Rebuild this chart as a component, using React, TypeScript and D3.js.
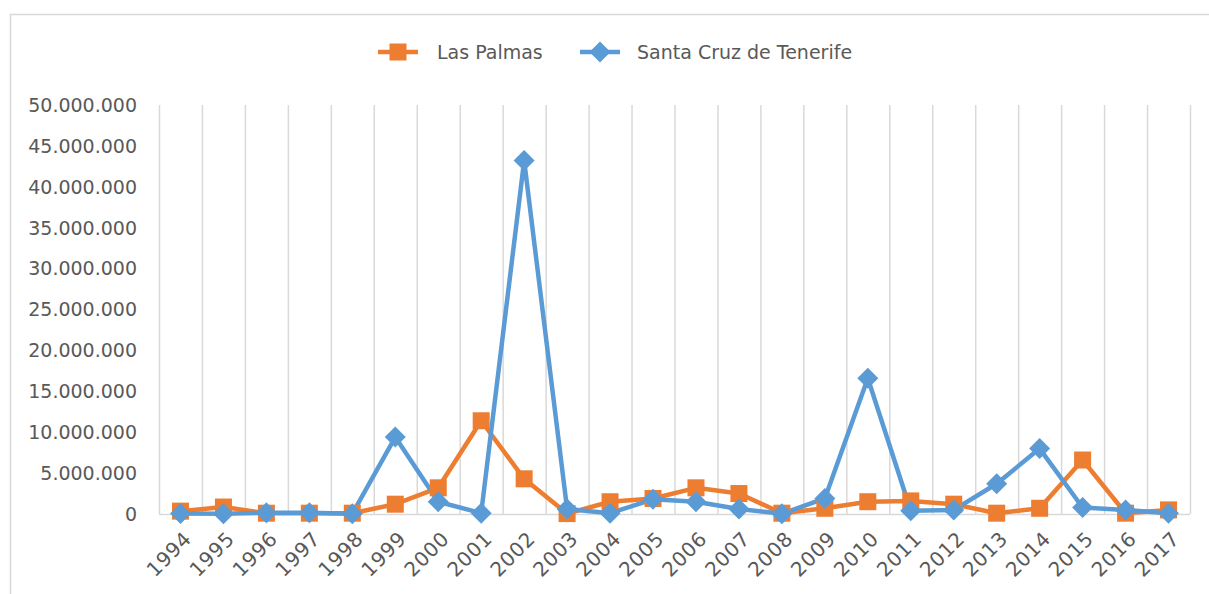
import React from "react";
import * as d3 from "d3";

const years = ["1994","1995","1996","1997","1998","1999","2000","2001","2002","2003","2004","2005","2006","2007","2008","2009","2010","2011","2012","2013","2014","2015","2016","2017"];
const lasPalmas = [350000,850000,100000,100000,100000,1200000,3200000,11400000,4300000,50000,1500000,1900000,3200000,2500000,100000,700000,1500000,1600000,1200000,100000,700000,6600000,100000,500000];
const santaCruz = [50000,20000,150000,150000,30000,9400000,1500000,100000,43200000,600000,100000,1800000,1500000,600000,30000,1900000,16600000,400000,500000,3700000,8000000,800000,500000,100000];
const yTicks = [0,5000000,10000000,15000000,20000000,25000000,30000000,35000000,40000000,45000000,50000000];
const seriesNames = ["Las Palmas", "Santa Cruz de Tenerife"];
const colors = ["#ED7D31", "#5B9BD5"];

const W = 1209, H = 594;
const left = 159, right = 1190, top = 105, bottom = 514;
const FONT = "DejaVu Sans";
const fmt = (v: number) => d3.format(",")(v).replace(/,/g, ".");

export default function App() {
  const x = d3.scaleBand<string>().domain(years).range([left, right]).paddingInner(0).paddingOuter(0);
  const y = d3.scaleLinear().domain([0, 50000000]).range([bottom, top]);
  const cx = (yr: string) => (x(yr) as number) + x.bandwidth() / 2;
  const line = d3.line<number>().x((_, i) => cx(years[i])).y((d) => y(d));
  const series = [lasPalmas, santaCruz];
  const sq = 17;
  const dm = 10.5;
  return (
    <svg width={W} height={H} style={{ position: "absolute", left: 0, top: 0, background: "#fff" }} fontFamily={FONT}>
      <rect x={10.5} y={14.5} width={1220} height={620} fill="#fff" stroke="#D9D9D9" strokeWidth={1.5} />
      {/* vertical gridlines at category boundaries */}
      {years.map((yr) => (
        <line key={"g" + yr} x1={(x(yr) as number) + 0.5} x2={(x(yr) as number) + 0.5} y1={top} y2={bottom} stroke="#D9D9D9" strokeWidth={1.5} />
      ))}
      <line x1={right + 0.5} x2={right + 0.5} y1={top} y2={bottom} stroke="#D9D9D9" strokeWidth={1.5} />
      <line x1={left} x2={right} y1={bottom + 0.5} y2={bottom + 0.5} stroke="#D9D9D9" strokeWidth={1.5} />
      {/* y tick labels */}
      {yTicks.map((t) => (
        <text key={"y" + t} x={137} y={y(t)} dy="0.36em" textAnchor="end" fontSize={19} fill="#595959">{fmt(t)}</text>
      ))}
      {/* x tick labels */}
      {years.map((yr) => (
        <text key={"x" + yr} transform={`translate(${cx(yr) + 2},${530}) rotate(-45)`} textAnchor="end" dy="0.72em" fontSize={20} letterSpacing={0.6} fill="#595959">{yr}</text>
      ))}
      {/* lines */}
      {series.map((s, si) => (
        <path key={"l" + si} d={line(s) as string} fill="none" stroke={colors[si]} strokeWidth={4.5} strokeLinejoin="round" />
      ))}
      {/* markers */}
      {lasPalmas.map((v, i) => (
        <rect key={"m0" + i} x={cx(years[i]) - sq / 2} y={y(v) - sq / 2} width={sq} height={sq} fill={colors[0]} />
      ))}
      {santaCruz.map((v, i) => {
        const px = cx(years[i]), py = y(v);
        return <path key={"m1" + i} d={`M${px},${py - dm}L${px + dm},${py}L${px},${py + dm}L${px - dm},${py}Z`} fill={colors[1]} />;
      })}
      {/* legend */}
      <g>
        <line x1={378} x2={418} y1={52} y2={52} stroke={colors[0]} strokeWidth={4.5} />
        <rect x={398 - sq / 2} y={52 - sq / 2} width={sq} height={sq} fill={colors[0]} />
        <text x={437} y={52} dy="0.36em" fontSize={19} fill="#595959">{seriesNames[0]}</text>
        <line x1={580} x2={620} y1={52} y2={52} stroke={colors[1]} strokeWidth={4.5} />
        <path d={`M600,${52 - dm}L${600 + dm},52L600,${52 + dm}L${600 - dm},52Z`} fill={colors[1]} />
        <text x={637} y={52} dy="0.36em" fontSize={19} fill="#595959">{seriesNames[1]}</text>
      </g>
    </svg>
  );
}
